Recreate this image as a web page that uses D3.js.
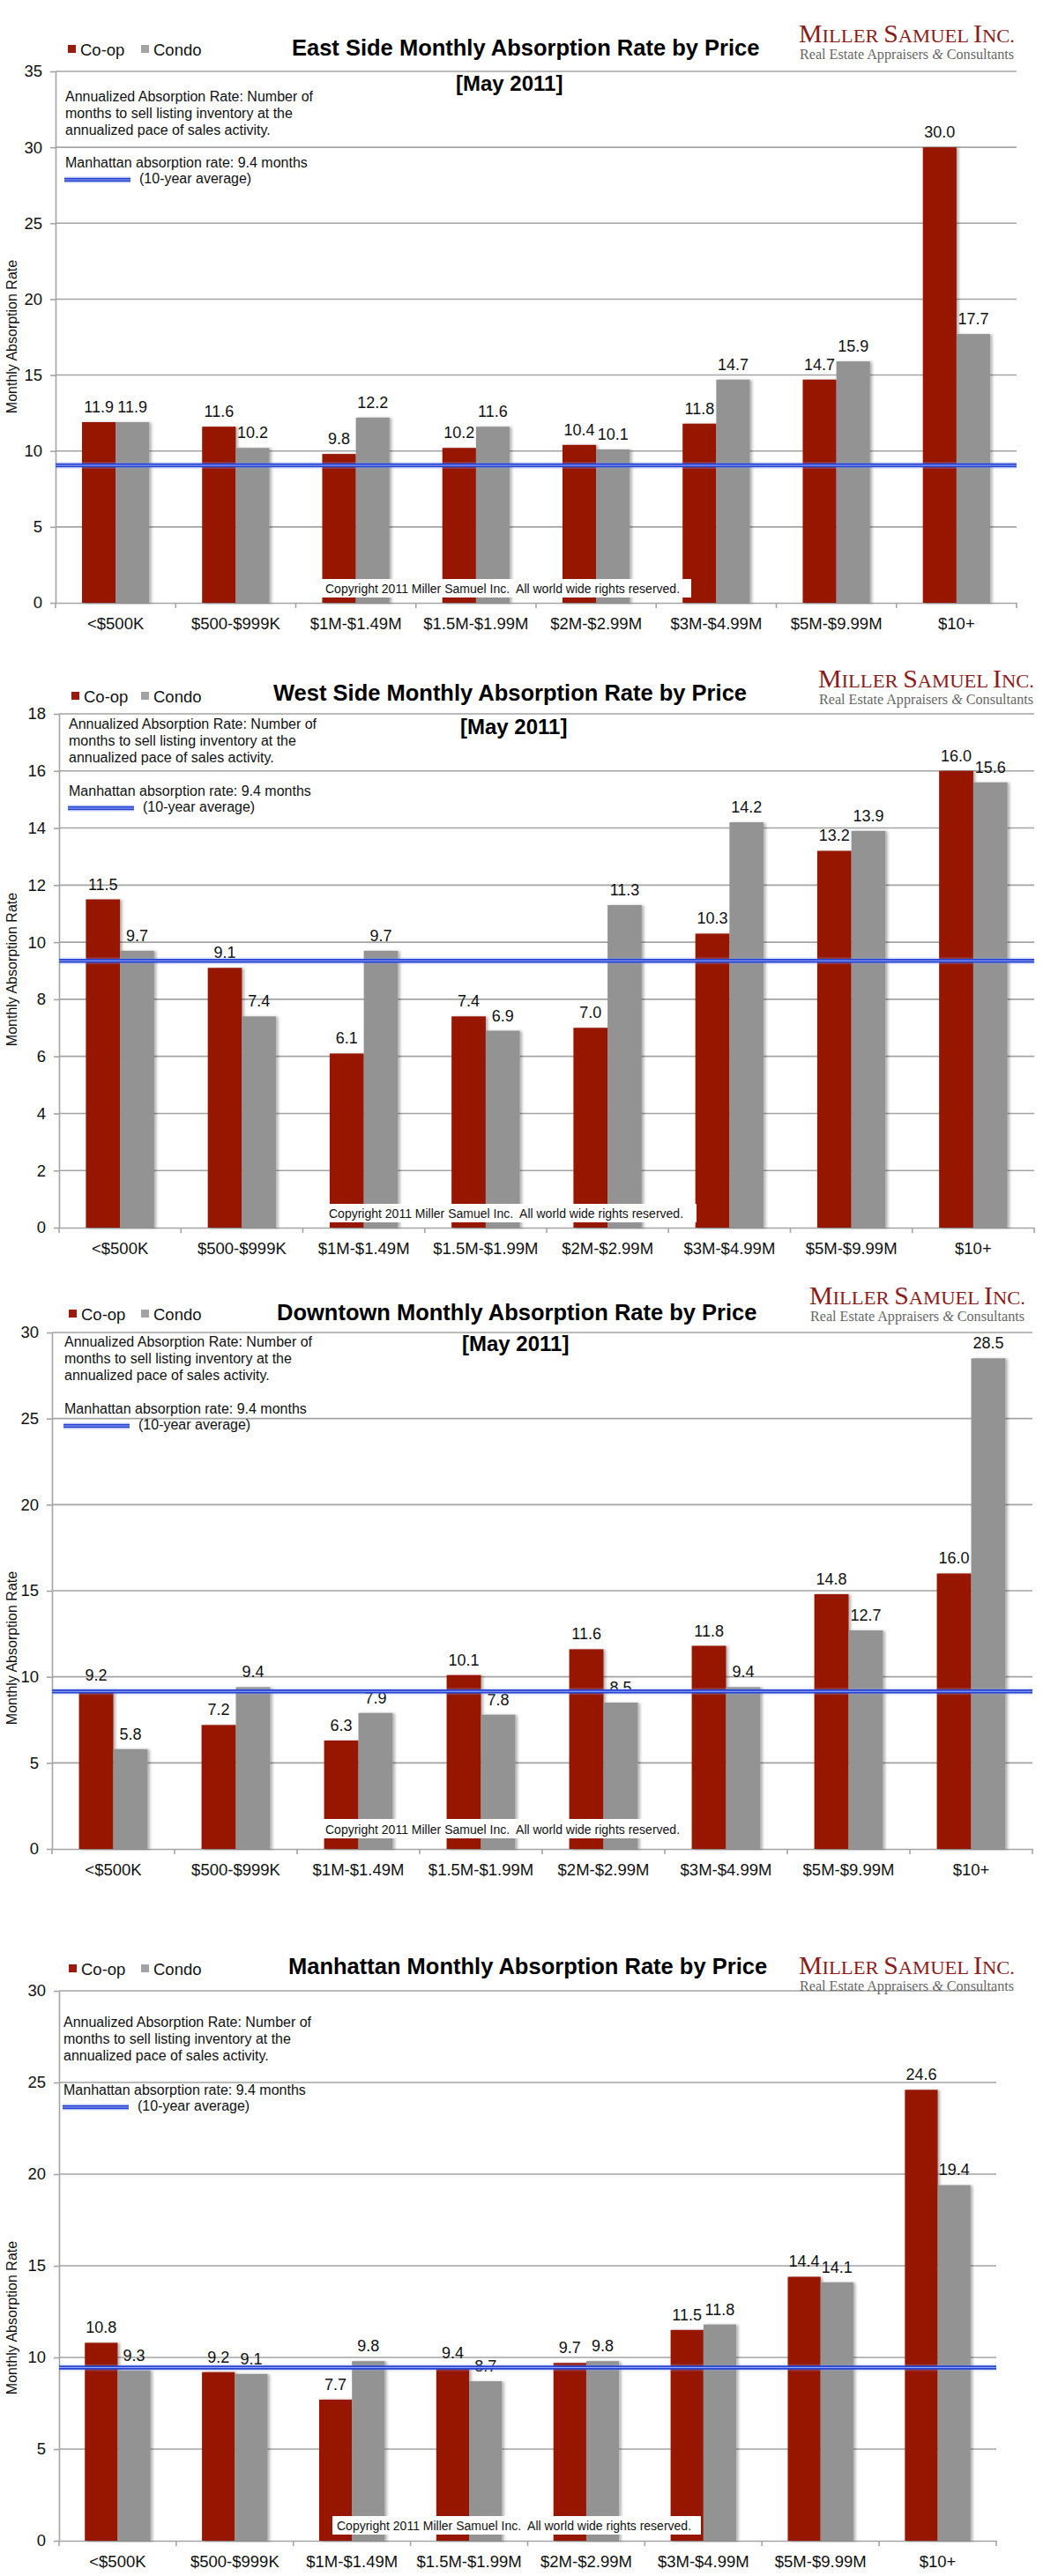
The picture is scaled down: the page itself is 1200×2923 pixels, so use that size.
<!DOCTYPE html>
<html>
<head>
<meta charset="utf-8">
<script src="https://cdn.jsdelivr.net/npm/d3@7"></script>
<style>
  body { margin: 0; background: #fff; }
  svg text { font-family: "Liberation Sans", Arial, sans-serif; }
</style>
</head>
<body>
<svg id="chart" width="1200" height="2923"></svg>
<script>
// ---- data ----
var categories = ["<$500K", "$500-$999K", "$1M-$1.49M", "$1.5M-$1.99M", "$2M-$2.99M", "$3M-$4.99M", "$5M-$9.99M", "$10+"];
var seriesNames = ["Co-op", "Condo"];

var eastCoop  = [11.9, 11.6, 9.8, 10.2, 10.4, 11.8, 14.7, 30.0];
var eastCondo = [11.9, 10.2, 12.2, 11.6, 10.1, 14.7, 15.9, 17.7];
var westCoop  = [11.5, 9.1, 6.1, 7.4, 7.0, 10.3, 13.2, 16.0];
var westCondo = [9.7, 7.4, 9.7, 6.9, 11.3, 14.2, 13.9, 15.6];
var downCoop  = [9.2, 7.2, 6.3, 10.1, 11.6, 11.8, 14.8, 16.0];
var downCondo = [5.8, 9.4, 7.9, 7.8, 8.5, 9.4, 12.7, 28.5];
var manCoop   = [10.8, 9.2, 7.7, 9.4, 9.7, 11.5, 14.4, 24.6];
var manCondo  = [9.3, 9.1, 9.8, 8.7, 9.8, 11.8, 14.1, 19.4];

var titles = ["East Side Monthly Absorption Rate by Price",
              "West Side Monthly Absorption Rate by Price",
              "Downtown Monthly Absorption Rate by Price",
              "Manhattan Monthly Absorption Rate by Price"];
var yMaxes = [35, 18, 30, 30];
var ySteps = [5, 2, 5, 5];
// level where the 10-year average line is drawn on each chart
var avgLevels = [9.05, 9.35, 9.15, 9.45];

var periodLabel = "[May 2011]";
var noteLines = ["Annualized Absorption Rate: Number of",
                 "months to sell listing inventory at the",
                 "annualized pace of sales activity."];
var avgNote = "Manhattan absorption rate: 9.4 months";
var avgNote2 = "(10-year average)";
var yAxisTitle = "Monthly Absorption Rate";
var copyright = "Copyright 2011 Miller Samuel Inc.  All world wide rights reserved.";

// ---- layout of the four stacked charts ----
var panels = [
  { coop: eastCoop, condo: eastCondo, left: 63, right: 1153, top: 81, bottom: 684,
    legendY: 63, legendX: [77, 160], titleX: 331, titleY: 63, mayX: 517, mayY: 103,
    logoX: 906, logoY: 48, noteX: 74, noteY: 115, manY: 190, axisTitleY: 382,
    copy: [364, 657, 420, 21] },
  { coop: westCoop, condo: westCondo, left: 67, right: 1173, top: 810, bottom: 1393,
    legendY: 797, legendX: [81, 160], titleX: 310, titleY: 795, mayX: 522, mayY: 833,
    logoX: 928, logoY: 780, noteX: 78, noteY: 827, manY: 903, axisTitleY: 1100,
    copy: [368, 1366, 422, 21] },
  { coop: downCoop, condo: downCondo, left: 59, right: 1171, top: 1512, bottom: 2098,
    legendY: 1498, legendX: [78, 160], titleX: 314, titleY: 1498, mayX: 524, mayY: 1533,
    logoX: 918, logoY: 1480, noteX: 73, noteY: 1528, manY: 1604, axisTitleY: 1870,
    copy: [364, 2064, 420, 22] },
  { coop: manCoop, condo: manCondo, left: 67, right: 1130, top: 2259, bottom: 2883,
    legendY: 2241, legendX: [78, 160], titleX: 327, titleY: 2240, mayX: null, mayY: null,
    logoX: 906, logoY: 2240, noteX: 72, noteY: 2300, manY: 2377, axisTitleY: 2630,
    copy: [377, 2855, 418, 21] }
];

var red = "#961400", grey = "#939393", gridColor = "#a4a4a4";

var svg = d3.select("#chart");

var defs = svg.append("defs");
defs.append("filter").attr("id", "barShadow")
    .attr("x", "-20%").attr("y", "-5%").attr("width", "140%").attr("height", "110%")
    .append("feDropShadow")
    .attr("dx", 2.5).attr("dy", 0.5).attr("stdDeviation", 1.5)
    .attr("flood-color", "#000").attr("flood-opacity", 0.3);

function avgLine(g, x1, x2, yy) {
    // double blue line with a soft glow
    [[8, "#8fa3ec", 0.25], [4.5, "#2441d4", 1], [1, "#9fb0f2", 1]].forEach(function(s) {
        g.append("line")
            .attr("x1", x1).attr("x2", x2).attr("y1", yy).attr("y2", yy)
            .style("stroke", s[1]).style("stroke-width", s[0]).style("opacity", s[2]);
    });
}

function drawPanel(p, i) {
    var g = svg.append("g").attr("class", "panel");

    var x = d3.scaleBand().domain(categories).range([p.left, p.right]);
    var y = d3.scaleLinear().domain([0, yMaxes[i]]).range([p.bottom, p.top]);
    var ticks = d3.range(0, yMaxes[i] + ySteps[i] / 2, ySteps[i]);
    var bw = x.bandwidth() * 0.28;
    var inner = d3.scaleBand().domain(seriesNames).range([-bw, bw]);

    // gridlines
    g.append("g").selectAll("line")
        .data(ticks.slice(1))
        .enter().append("line")
        .attr("x1", p.left).attr("x2", p.right)
        .attr("y1", function(d) { return y(d); })
        .attr("y2", function(d) { return y(d); })
        .style("stroke", gridColor).style("stroke-width", 1.6);

    // y axis
    var ya = g.append("g")
        .attr("transform", "translate(" + p.left + ",0)")
        .call(d3.axisLeft(y).tickValues(ticks).tickSize(6).tickSizeOuter(0)
              .tickPadding(9).tickFormat(d3.format("d")));
    ya.attr("font-family", null).attr("font-size", null);
    ya.selectAll("line, path").style("stroke", gridColor).style("stroke-width", 1.6);
    ya.selectAll("text").style("font-size", "18.5px").style("fill", "#111");

    // x axis
    var xa = g.append("g")
        .attr("transform", "translate(0," + p.bottom + ")")
        .call(d3.axisBottom(x).tickSize(0).tickPadding(17).tickSizeOuter(0));
    xa.attr("font-family", null).attr("font-size", null);
    xa.select("path").style("stroke", gridColor).style("stroke-width", 1.6);
    xa.selectAll("text").style("font-size", "18.5px").style("fill", "#111");
    xa.append("g").selectAll("line")
        .data(categories.concat(["end"]))
        .enter().append("line")
        .attr("x1", function(d, k) { return k < categories.length ? x(d) : p.right; })
        .attr("x2", function(d, k) { return k < categories.length ? x(d) : p.right; })
        .attr("y1", 0).attr("y2", 6)
        .style("stroke", gridColor).style("stroke-width", 1.6);

    // bars
    var rows = categories.map(function(c, k) {
        return { cat: c, values: [{ s: "Co-op", v: p.coop[k] }, { s: "Condo", v: p.condo[k] }] };
    });
    var groups = g.append("g").selectAll(".cat")
        .data(rows)
        .enter().append("g")
        .attr("class", "cat")
        .attr("transform", function(d) { return "translate(" + (x(d.cat) + x.bandwidth() / 2) + ",0)"; });

    groups.selectAll("rect")
        .data(function(d) { return d.values; })
        .enter().append("rect")
        .attr("x", function(d) { return inner(d.s); })
        .attr("width", inner.bandwidth())
        .attr("y", function(d) { return y(d.v); })
        .attr("height", function(d) { return y(0) - y(d.v); })
        .style("fill", function(d) { return d.s === "Co-op" ? red : grey; })
        .attr("filter", "url(#barShadow)");

    groups.selectAll("text")
        .data(function(d) { return d.values; })
        .enter().append("text")
        .attr("x", function(d) { return inner(d.s) + inner.bandwidth() / 2; })
        .attr("y", function(d) { return y(d.v) - 11; })
        .attr("text-anchor", "middle")
        .style("font-size", "18px").style("fill", "#111")
        .text(function(d) { return d3.format(".1f")(d.v); });

    // 10-year average line
    avgLine(g, p.left, p.right, y(avgLevels[i]));

    // copyright box over the bars
    g.append("rect")
        .attr("x", p.copy[0]).attr("y", p.copy[1])
        .attr("width", p.copy[2]).attr("height", p.copy[3])
        .style("fill", "#fff");
    g.append("text")
        .attr("x", p.copy[0] + 5).attr("y", p.copy[1] + p.copy[3] - 5)
        .style("font-size", "14px").style("fill", "#111")
        .style("white-space", "pre")
        .text(copyright);

    // legend
    seriesNames.forEach(function(s, k) {
        g.append("rect")
            .attr("x", p.legendX[k]).attr("y", p.legendY - 12)
            .attr("width", 9).attr("height", 9)
            .style("fill", k === 0 ? "#9b1a0b" : "#a3a3a3");
        g.append("text")
            .attr("x", p.legendX[k] + 14).attr("y", p.legendY)
            .style("font-size", "18.5px").style("fill", "#111")
            .text(s);
    });

    // title and period
    g.append("text")
        .attr("x", p.titleX).attr("y", p.titleY)
        .style("font-size", "25.5px").style("font-weight", "bold").style("fill", "#000")
        .text(titles[i]);
    if (p.mayX !== null) {
        g.append("text")
            .attr("x", p.mayX).attr("y", p.mayY)
            .style("font-size", "24px").style("font-weight", "bold").style("fill", "#000")
            .text(periodLabel);
    }

    // logo
    var logo = g.append("text")
        .attr("x", p.logoX).attr("y", p.logoY)
        .attr("textLength", 245).attr("lengthAdjust", "spacingAndGlyphs")
        .style("font-family", "'Liberation Serif', 'DejaVu Serif', serif")
        .style("fill", "#8a1c1c");
    [["M", 29], ["ILLER ", 22], ["S", 29], ["AMUEL ", 22], ["I", 29], ["NC.", 22]].forEach(function(t) {
        logo.append("tspan").style("font-size", t[1] + "px").text(t[0]);
    });
    var sub = g.append("text")
        .attr("x", p.logoX + 1).attr("y", p.logoY + 19)
        .attr("textLength", 243).attr("lengthAdjust", "spacingAndGlyphs")
        .style("font-family", "'Liberation Serif', 'DejaVu Serif', serif")
        .style("font-size", "16px").style("fill", "#666");
    sub.append("tspan").text("Real Estate Appraisers ");
    sub.append("tspan").style("font-style", "italic").text("&");
    sub.append("tspan").text(" Consultants");

    // notes
    noteLines.forEach(function(t, k) {
        g.append("text")
            .attr("x", p.noteX).attr("y", p.noteY + k * 19)
            .style("font-size", "16px").style("fill", "#111")
            .text(t);
    });
    g.append("text")
        .attr("x", p.noteX).attr("y", p.manY)
        .style("font-size", "16px").style("fill", "#111")
        .text(avgNote);
    avgLine(g, p.noteX - 1, p.noteX + 74, p.manY + 14);
    g.append("text")
        .attr("x", p.noteX + 84).attr("y", p.manY + 18)
        .style("font-size", "16px").style("fill", "#111")
        .text(avgNote2);

    // y axis title
    g.append("text")
        .attr("transform", "translate(19," + p.axisTitleY + ") rotate(-90)")
        .attr("text-anchor", "middle")
        .style("font-size", "16px").style("fill", "#111")
        .text(yAxisTitle);
}

panels.forEach(drawPanel);
</script>
</body>
</html>
